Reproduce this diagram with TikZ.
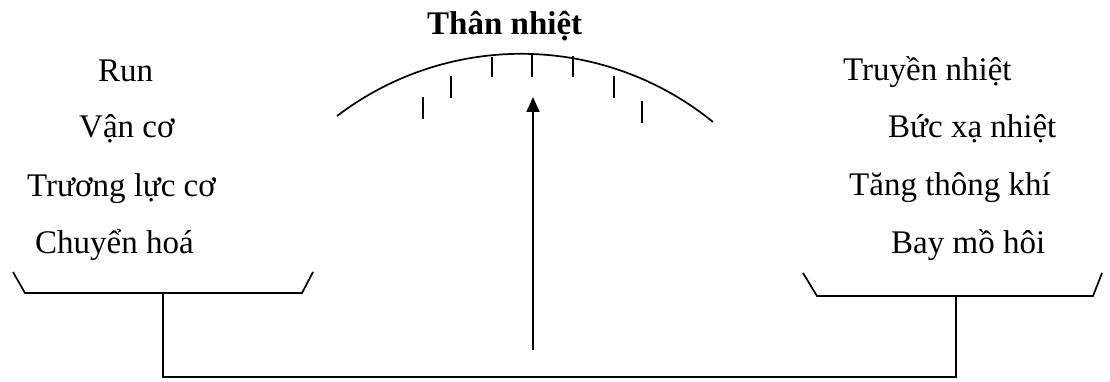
\documentclass[tikz,border=0pt]{standalone}
\usepackage{fontspec}
\setmainfont{Liberation Serif}
\usetikzlibrary{arrows.meta}
\tikzset{
  lbl/.style={anchor=base west, inner sep=0pt, font=\fontsize{33}{38}\selectfont},
  ttl/.style={anchor=base west, inner sep=0pt, font=\fontsize{33}{38}\selectfont\bfseries},
  ln/.style={line width=1.7pt},
  tick/.style={line width=1.7pt},
}
\begin{document}
\begin{tikzpicture}[x=1pt,y=-1pt]
\useasboundingbox (0,0) rectangle (1110,382);
% title
\node[ttl] (title) at (427,35) {Thân nhiệt};
% left texts
\node[lbl] (run) at (98,81.5) {Run};
\node[lbl] (van) at (79,138) {Vận cơ};
\node[lbl] (truong) at (27,196.5) {Trương lực cơ};
\node[lbl] (chuyen) at (35,253) {Chuyển hoá};
% right texts
\node[lbl] (truyen) at (843,80.5) {Truyền nhiệt};
\node[lbl] (buc) at (888,138) {Bức xạ nhiệt};
\node[lbl] (tang) at (849,196) {Tăng thông khí};
\node[lbl] (bay) at (891,253) {Bay mồ hôi};
% dial arc
\draw[ln] plot[domain=50.86:127.3, samples=80, smooth] ({521.2+303.9*cos(\x)},{357.7-303.9*sin(\x)});
% ticks
\draw[tick] (423,97) -- (423,119);
\draw[tick] (451,76) -- (451,98);
\draw[tick] (492,57) -- (492,77);
\draw[tick] (532,54) -- (532,77);
\draw[tick] (573,56) -- (573,77);
\draw[tick] (614,76) -- (614,98);
\draw[tick] (642,101) -- (642,123);
% pans
\coordinate (lp) at (163,293);
\coordinate (rp) at (956,296);
\coordinate (lb) at (163,377);
\coordinate (rb) at (956,377);
\coordinate (needlebase) at (533,350);
\coordinate (needletip) at (533,97);
\draw[ln] (13,272) -- (25,293) -- (302,293) -- (313,272);
\draw[ln] (803,273) -- (817,296) -- (1093,296) -- (1102,273);
\draw[ln] (lp) -- (lb) -- (rb) -- (rp);
% needle
\draw[ln,-{Triangle[width=13pt,length=15pt]}] (needlebase) -- (needletip);
\end{tikzpicture}
\end{document}
